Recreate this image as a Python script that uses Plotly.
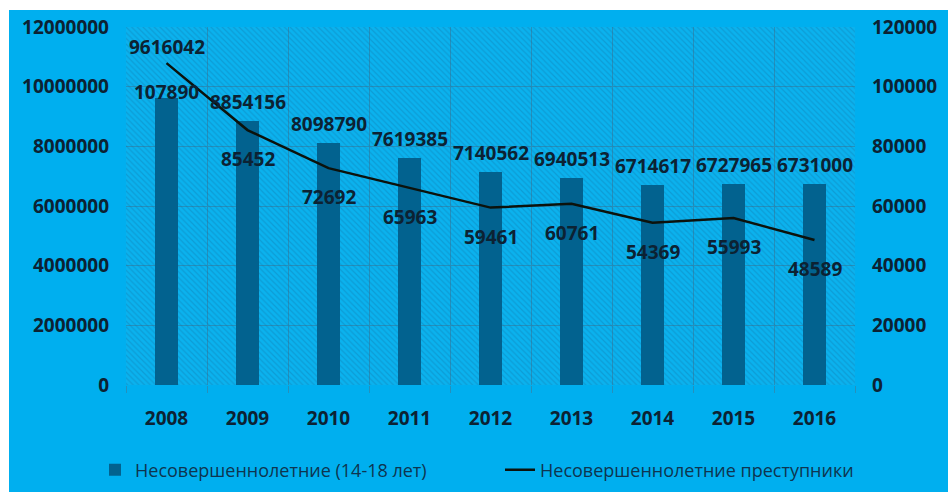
import plotly.graph_objects as go

years = ["2008", "2009", "2010", "2011", "2012", "2013", "2014", "2015", "2016"]
minors_total = [9616042, 8854156, 8098790, 7619385, 7140562, 6940513, 6714617, 6727965, 6731000]
minors_offenders = [107890, 85452, 72692, 65963, 59461, 60761, 54369, 55993, 48589]
bar_name = "Несовершеннолетние (14-18 лет)"
line_name = "Несовершеннолетние преступники"

Y1_MAX = 12000000
Y2_MAX = 120000

W, H = 948, 492
ML, MR, MT, MB = 126, 93, 27, 107
PLOT_H = H - MT - MB

BG = "#00AFEF"
BAR = "#02628F"
GRID = "#2590BC"
TXT = "#0c2233"
FONT = "Open Sans"

fig = go.Figure()

# hatched plot-area background
fig.add_trace(go.Bar(
    x=years, y=[Y1_MAX] * len(years), width=1.0,
    marker=dict(color="rgba(0,0,0,0)", line=dict(width=0),
                pattern=dict(shape="\\", fgcolor="rgba(15,105,155,0.6)",
                             bgcolor="rgba(0,0,0,0)", size=4, solidity=0.3)),
    hoverinfo="skip", showlegend=False,
))

fig.add_trace(go.Bar(
    x=years, y=minors_total, name=bar_name, width=0.29, legend="legend",
    marker=dict(color=BAR, line=dict(width=0)),
))

fig.add_trace(go.Scatter(
    x=years, y=minors_offenders, name=line_name, yaxis="y2", legend="legend2",
    mode="lines", line=dict(color="#0c120c", width=2.5),
))

annotations = []
lab_font = dict(family=FONT, size=19, color=TXT, weight=700)
for i, (b, l) in enumerate(zip(minors_total, minors_offenders)):
    b_px = b / Y1_MAX * PLOT_H
    l_px = l / Y2_MAX * PLOT_H
    line_lab = l_px - 29
    bar_lab = b_px + 19
    if abs(bar_lab - line_lab) < 20:
        bar_lab = l_px + 16
    annotations.append(dict(x=i, xref="x", y=0, yref="y", text=str(b), showarrow=False,
                            yanchor="middle", yshift=bar_lab, font=lab_font))
    annotations.append(dict(x=i, xref="x", y=0, yref="y", text=str(l), showarrow=False,
                            yanchor="middle", yshift=line_lab, font=lab_font))

tick_font = dict(family=FONT, size=19, color=TXT, weight=700)
leg_font = dict(family=FONT, size=18, color="#0e3550")

fig.update_layout(
    width=W, height=H, autosize=False,
    margin=dict(l=ML, r=MR, t=MT, b=MB),
    paper_bgcolor=BG, plot_bgcolor="#0BB2EE",
    barmode="overlay", bargap=0,
    annotations=annotations,
    shapes=[
        dict(type="rect", xref="paper", yref="paper", x0=-0.3, x1=1.3,
             y0=(PLOT_H + MT - 10) / PLOT_H, y1=(PLOT_H + MT + 5) / PLOT_H,
             fillcolor="white", line=dict(width=0), layer="below"),
        dict(type="rect", xref="paper", yref="paper", x0=-0.3, x1=-(ML - 9) / (W - ML - MR),
             y0=-0.5, y1=1.2, fillcolor="white", line=dict(width=0), layer="below"),
    ],
    xaxis=dict(type="category", range=[-0.5, len(years) - 0.5], tickson="boundaries",
               ticks="outside", ticklen=7, automargin=False,
               tickcolor=GRID, showgrid=True, gridcolor=GRID, gridwidth=1,
               tickfont=tick_font, ticklabelstandoff=20, showline=False, zeroline=False),
    yaxis=dict(range=[0, Y1_MAX], dtick=2000000, tickformat="d", showgrid=True,
               gridcolor=GRID, gridwidth=1, tickfont=tick_font, zeroline=False,
               ticklabelstandoff=16, automargin=False),
    yaxis2=dict(range=[0, Y2_MAX], dtick=20000, tickformat="d", overlaying="y",
                side="right", showgrid=False, tickfont=tick_font, zeroline=False,
                ticklabelstandoff=16, automargin=False),
    legend=dict(orientation="h", xref="container", x=95 / W, xanchor="left",
                yref="container", y=1 - 470 / H, yanchor="middle",
                font=leg_font, bgcolor="rgba(0,0,0,0)"),
    legend2=dict(orientation="h", xref="container", x=500 / W, xanchor="left",
                 yref="container", y=1 - 470 / H, yanchor="middle",
                 font=leg_font, bgcolor="rgba(0,0,0,0)"),
    showlegend=True,
)

fig.write_html("out.html")
